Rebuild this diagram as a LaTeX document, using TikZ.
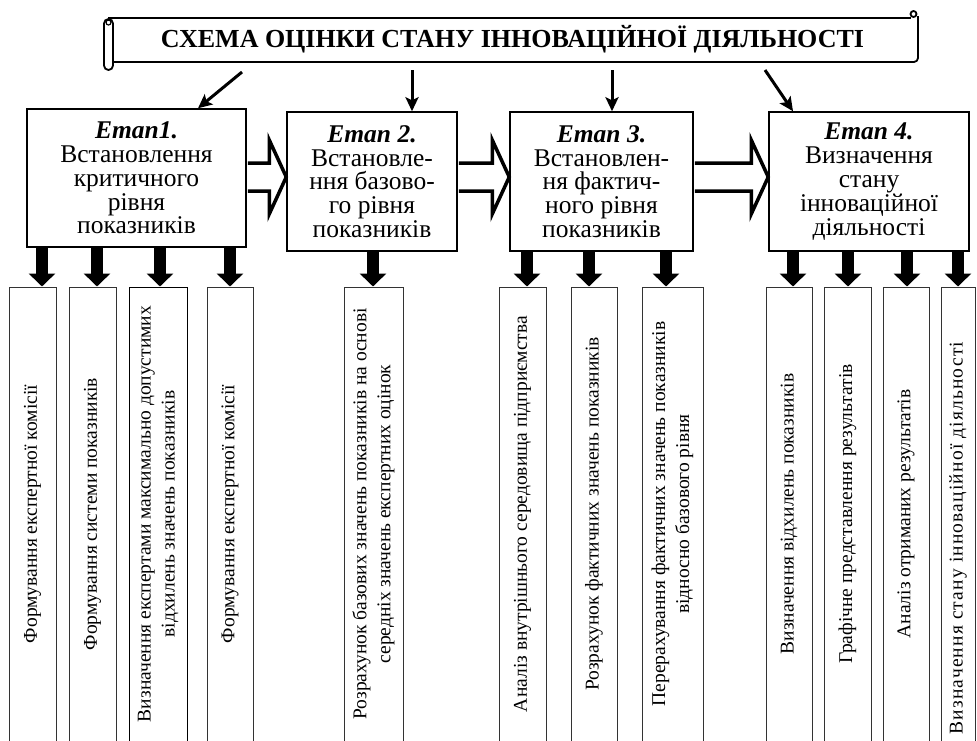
\documentclass[tikz,border=0pt]{standalone}
\usepackage{fontspec}
\setmainfont{Liberation Serif}
\usetikzlibrary{arrows.meta,calc}
\newcommand\blockarrow[3]{%
  \coordinate (ba-t) at (#1.east |- #3);
  \coordinate (ba-h) at (#2.west |- #3);
  \filldraw[blockarr] ($(ba-t)+(1,-14)$) -- ($(ba-h)+(-17,-14)$) -- ($(ba-h)+(-17,-37)$) -- (ba-h) -- ($(ba-h)+(-17,37)$) -- ($(ba-h)+(-17,14)$) -- ($(ba-t)+(1,14)$);
}
\begin{document}
\begin{tikzpicture}[x=1pt,y=-1pt,
  scroll/.style={line width=1.8pt, line join=round},
  stagebox/.style={draw, line width=1.5pt, fill=white, align=center, inner sep=0pt,
    font=\fontsize{25.5}{23.8}\selectfont},
  subbox/.style={draw=black!80, line width=1pt, rotate=90, minimum width=454pt,
    inner sep=0pt, align=center, font=\fontsize{19.5}{24}\selectfont},
  toparr/.style={line width=3pt, -{Stealth[length=14pt,width=13pt,inset=3pt]}},
  downarr/.style={line width=12pt, -{Triangle[length=13pt,width=26pt]}},
  blockarr/.style={line width=3.5pt, fill=white, line join=miter}
]
\useasboundingbox (0,0) rectangle (977,740);
\clip (0,0) rectangle (977,740);

% scroll banner
\draw[scroll] (108,18) -- (911,18);
\draw[scroll] (913.5,14) circle (3);
\draw[scroll, rounded corners=4pt] (918,16) -- (918,62) -- (113,62);
\draw[scroll, fill=white, rounded corners=4.5pt] (104,19) rectangle (113,70);
\draw[line width=1.2pt] (108.5,22.5) circle (2.5);
\node[font=\fontsize{26}{30}\selectfont\bfseries] (title) at (512.5,39)
  {СХЕМА ОЦІНКИ СТАНУ ІННОВАЦІЙНОЇ ДІЯЛЬНОСТІ};

% stage boxes
\node[stagebox, minimum width=219pt, minimum height=138pt] (s1) at (136.5,178)
  {{\bfseries\itshape Етап1.}\\Встановлення\\критичного\\рівня\\показників};
\node[stagebox, minimum width=170pt, minimum height=139pt] (s2) at (372,181.5)
  {{\bfseries\itshape Етап 2.}\\Встановле-\\ння базово-\\го рівня\\показників};
\node[stagebox, minimum width=183pt, minimum height=139pt] (s3) at (601.5,181.5)
  {{\bfseries\itshape Етап 3.}\\Встановлен-\\ня фактич-\\ного рівня\\показників};
\node[stagebox, minimum width=200pt, minimum height=139pt] (s4) at (869,181.5)
  {{\bfseries\itshape Етап 4.}\\Визначення\\стану\\інноваційної\\діяльності};

% arrows from banner
\coordinate (a1) at (242,72); \coordinate (t1) at (198,0);
\draw[toparr] (a1) -- (s1.north -| t1);
\coordinate (a2) at (412,70);
\draw[toparr] (a2) -- (s2.north -| a2);
\coordinate (a3) at (612,70);
\draw[toparr] (a3) -- (s3.north -| a3);
\coordinate (a4) at (765,70); \coordinate (t4) at (793,0);
\draw[toparr] (a4) -- (s4.north -| t4);

% hollow block arrows between stages
\coordinate (row) at (0,177);
\blockarrow{s1}{s2}{row}
\blockarrow{s2}{s3}{row}
\blockarrow{s3}{s4}{row}

% sub-step boxes
\node[subbox, minimum height=47pt] (b1) at (32.5,514) {Формування експертної комісії};
\node[subbox, minimum height=47pt] (b2) at (92.5,514) {Формування системи показників};
\node[subbox, minimum height=58pt, draw=black] (b3) at (158,514) {Визначення експертами максимально допустимих\\відхилень значень показників};
\node[subbox, minimum height=46pt] (b4) at (230,514) {Формування експертної комісії};
\node[subbox, minimum height=59pt] (b5) at (373.5,514) {Розрахунок базових значень показників на основі\\середніх значень експертних оцінок};
\node[subbox, minimum height=47pt] (b6) at (522.5,514) {Аналіз внутрішнього середовища підприємства};
\node[subbox, minimum height=46pt] (b7) at (594,514) {Розрахунок фактичних значень показників};
\node[subbox, minimum height=61pt] (b8) at (672.5,514) {Перерахування фактичних значень показників\\відносно базового рівня};
\node[subbox, minimum height=46pt] (b9) at (789,514) {Визначення відхилень показників};
\node[subbox, minimum height=47pt] (b10) at (847.5,514) {Графічне представлення результатів};
\node[subbox, minimum height=46pt] (b11) at (906,514) {Аналіз отриманих результатів};
\node[subbox, minimum height=34pt] (b12) at (958,514) {\addfontfeatures{LetterSpace=6}Визначення стану інноваційної діяльності\hspace*{48pt}};

% down arrows
\foreach \x/\s/\b in {42/s1/b1, 97/s1/b2, 160/s1/b3, 230/s1/b4, 373/s2/b5,
    527/s3/b6, 589/s3/b7, 666/s3/b8, 793/s4/b9, 848/s4/b10, 907/s4/b11, 958/s4/b12}{
  \coordinate (d) at (\x,0);
  \draw[downarr] (\s.south -| d) -- (\b.east -| d);
}
\end{tikzpicture}
\end{document}
